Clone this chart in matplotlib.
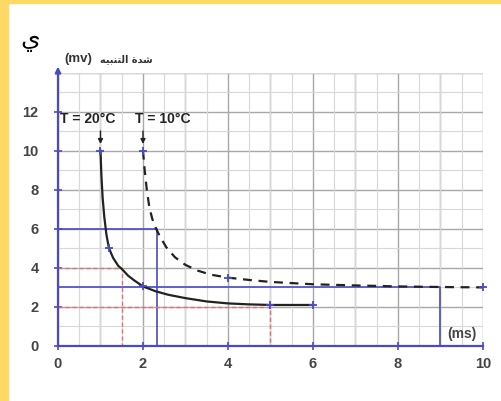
import matplotlib
matplotlib.use("Agg")
import matplotlib.pyplot as plt
from matplotlib.patches import Rectangle

plt.rcParams["font.family"] = ["Liberation Sans", "DejaVu Sans"]

# T = 20°C curve (solid)
t20_x = [1.0, 1.02, 1.05, 1.09, 1.14, 1.2, 1.3, 1.42, 1.5, 1.65, 1.8, 2.0, 2.3, 2.6, 3.0, 3.5, 4.0, 4.5, 5.0, 6.0]
t20_y = [10.0, 8.8, 7.6, 6.6, 5.7, 5.0, 4.5, 4.1, 3.95, 3.6, 3.35, 3.05, 2.8, 2.62, 2.45, 2.28, 2.18, 2.13, 2.1, 2.1]
t20_mark_x = [1.0, 1.2, 2.0, 5.0, 6.0]
t20_mark_y = [10.0, 5.0, 3.05, 2.1, 2.1]

# T = 10°C curve (dashed)
t10_x = [2.0, 2.04, 2.09, 2.15, 2.22, 2.3, 2.4, 2.55, 2.75, 3.0, 3.3, 3.6, 4.0, 4.5, 5.0, 6.0, 7.0, 8.0, 9.0, 10.0]
t10_y = [10.0, 9.0, 8.0, 7.1, 6.5, 6.05, 5.6, 5.05, 4.55, 4.15, 3.85, 3.65, 3.5, 3.38, 3.28, 3.16, 3.1, 3.05, 3.02, 3.0]
t10_mark_x = [2.0, 4.0, 10.0]
t10_mark_y = [10.0, 3.5, 3.0]

# helper lines: (x, y) corner points
blue_corners = [(2.33, 6.0), (9.0, 3.0)]
red_corners = [(1.5, 4.0), (5.0, 2.0)]

x_ticks = [0, 2, 4, 6, 8, 10]
y_ticks = [0, 2, 4, 6, 8, 10, 12]

BLUE = "#4a4ac4"
RED = "#e07070"

fig = plt.figure(figsize=(5.02, 4.01), dpi=100)
fig.patches.append(Rectangle((0, 0), 0.016, 1, transform=fig.transFigure, color="#ffd966", zorder=0))
fig.patches.append(Rectangle((0, 0.992), 1, 0.008, transform=fig.transFigure, color="#ffd966", zorder=0))

ax = fig.add_axes([0.1155, 0.1372, 0.8466, 0.6818])
ax.set_xlim(0, 10)
ax.set_ylim(0, 14)

# graph paper grid
ax.set_xticks([i * 0.5 for i in range(21)], minor=True)
ax.set_yticks(range(15), minor=True)
ax.grid(which="minor", color="#d8d8d8", lw=0.8)
ax.set_xticks(x_ticks)
ax.set_yticks(y_ticks)
for v in range(11):
    ax.axvline(v, color="#a8a8a8", lw=1.0, zorder=0.5)
for v in range(0, 15, 2):
    ax.axhline(v, color="#a8a8a8", lw=1.0, zorder=0.5)

for s in ["top", "right"]:
    ax.spines[s].set_visible(False)
for s in ["left", "bottom"]:
    ax.spines[s].set_color(BLUE)
    ax.spines[s].set_linewidth(1.6)
    ax.spines[s].set_zorder(5)
ax.tick_params(which="major", direction="inout", length=6, width=1.2, color=BLUE,
               labelcolor="#444444", labelsize=10.5, pad=5)
ax.tick_params(axis="y", pad=11)
ax.tick_params(which="minor", length=0)
for lab in ax.get_xticklabels() + ax.get_yticklabels():
    lab.set_fontweight("bold")

# y-axis arrow
ax.annotate("", xy=(0, 14.45), xytext=(0, 13.9), annotation_clip=False,
            arrowprops=dict(arrowstyle="-|>", color=BLUE, lw=1.6, mutation_scale=8))

for cx, cy in blue_corners:
    ax.plot([0, cx, cx], [cy, cy, 0], color=BLUE, lw=1.2, zorder=2)
for cx, cy in red_corners:
    ax.plot([0, cx, cx], [cy, cy, 0], color=RED, lw=1.0, ls=(0, (3, 2)), zorder=2)

ax.plot(t20_x, t20_y, color="#222222", lw=1.6, zorder=3)
ax.plot(t10_x, t10_y, color="#222222", lw=1.6, ls=(0, (4, 3)), zorder=3)
ax.plot(t20_mark_x, t20_mark_y, ls="none", marker="+", ms=6, mew=1.3, color=BLUE, zorder=4)
ax.plot(t10_mark_x, t10_mark_y, ls="none", marker="+", ms=6, mew=1.3, color=BLUE, zorder=4,
        clip_on=False)

ax.text(0.05, 11.6, "T = 20°C", fontsize=10, fontweight="bold", color="#222222", va="center")
ax.text(1.82, 11.6, "T = 10°C", fontsize=10, fontweight="bold", color="#222222", va="center")
for x0 in [1.0, 2.0]:
    ax.annotate("", xy=(x0, 10.2), xytext=(x0, 11.15),
                arrowprops=dict(arrowstyle="-|>", color="#222222", lw=1.0, mutation_scale=7))

ax.text(9.85, 0.6, "(ms)", fontsize=10, fontweight="bold", color="#444444", ha="right", va="center")

# "(mv) شدة التنبيه" - arabic written in presentation forms, visual order
arabic = "\uFEEA\uFEF4\uFE92\uFEE8\uFE98\uFEDF\uFE8D \uFE93\uFEAA\uFEB7"
fig.text(0.128, 0.853, "(mv)", fontsize=9.5, fontweight="bold", color="#333333", va="center")
fig.text(0.2, 0.853, arabic, fontsize=7, fontweight="bold", color="#333333", va="center",
         family="DejaVu Sans")

fig.text(0.06, 0.9, "\u064A", fontsize=18, color="black", ha="center", va="center",
         family="DejaVu Sans")

fig.savefig("out.png", dpi=100)
